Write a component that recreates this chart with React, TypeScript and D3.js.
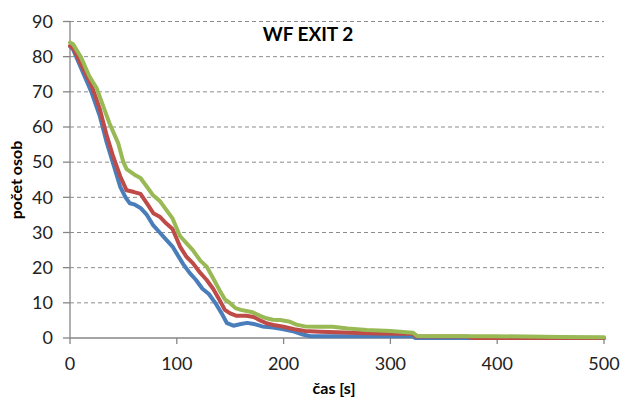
import React from "react";
import * as d3 from "d3";

const blueT = [0,3,10,20,28,34,40,47,52,56,60,66,72,78,84,90,96,100,106,112,118,124,130,136,142,147,153,160,166,172,180,190,200,210,218,225,240,260,280,300,321,323,500];
const blueV = [83,82,77,70,63,56,50,43,40,38.3,38,37,35,32,30,28,26,24,21,18.5,16.5,14,12.5,10,7,4.2,3.5,4,4.3,4,3.3,3,2.5,1.8,1,0.5,0.5,0.5,0.5,0.5,0.5,0,0];

const redT = [0,3,10,20,28,34,40,47,53,60,66,72,78,84,90,96,103,109,115,122,128,134,140,145,150,156,165,172,178,184,192,200,210,220,234,250,270,290,310,321,324,373,376,500];
const redV = [83,82.5,78,72,65,58,52,46,42,41.5,41,38.3,35.5,34.5,32.6,31,26,23.1,21.3,18.5,16.5,14,10.8,8,7,6.3,6.3,6,5,4.2,3.6,3.2,2.5,2,1.8,1.6,1.4,1.3,1.2,1.2,0.4,0.4,0,0];

const greenT = [0,3,10,18,25,31,37,45,50,53,60,66,72,78,84,90,96,103,109,115,122,128,134,140,145,150,155,160,171,178,184,190,197,206,212,220,234,246,260,278,300,321,325,400,460,500];
const greenV = [84,83.5,80,74.5,71,66,61,55.5,50,48,46.5,45.5,43,40.5,39,36.5,34,29,27,25,22,20.3,17,13.6,11,9.9,8.5,8,7.3,6.3,5.6,5.2,5.1,4.6,3.8,3.3,3.2,3.2,2.7,2.3,2,1.5,0.6,0.5,0.3,0.2];

const xTicks = [0,100,200,300,400,500];
const yTicks = [0,10,20,30,40,50,60,70,80,90];

const seriesList = [
  { t: blueT, v: blueV, color: "#4A7EBB" },
  { t: redT, v: redV, color: "#BE4B48" },
  { t: greenT, v: greenV, color: "#98B954" },
];

const title = "WF EXIT 2";
const xLabel = "čas [s]";
const yLabel = "počet osob";

export default function App() {
  const W = 622, H = 403;
  const x = d3.scaleLinear().domain([0, 500]).range([70, 604]);
  const y = d3.scaleLinear().domain([0, 90]).range([338, 21.5]);
  const line = d3.line<[number, number]>().x(d => x(d[0])).y(d => y(d[1]));
  const font = "Lato, 'Open Sans', sans-serif";
  return (
    <svg width={W} height={H} style={{ position: "absolute", left: 0, top: 0, background: "#fff" }}>
      {yTicks.filter(t => t > 0).map(t => (
        <line key={"g" + t} x1={70} x2={604} y1={y(t)} y2={y(t)} stroke="#8c8c8c" strokeWidth={1} strokeDasharray="4,3" />
      ))}
      <line x1={70} x2={70} y1={y(90)} y2={y(0)} stroke="#868686" strokeWidth={1.3} />
      <line x1={70} x2={604} y1={y(0)} y2={y(0)} stroke="#868686" strokeWidth={1.3} />
      {yTicks.map(t => (
        <g key={"y" + t}>
          <line x1={63} x2={70} y1={y(t)} y2={y(t)} stroke="#868686" strokeWidth={1.3} />
          <text x={53} y={y(t)} dy="0.35em" textAnchor="end" fontFamily={font} fontSize={18} fill="#222">{t}</text>
        </g>
      ))}
      {xTicks.map(t => (
        <g key={"x" + t}>
          <line x1={x(t)} x2={x(t)} y1={338} y2={344} stroke="#868686" strokeWidth={1.3} />
          <text x={x(t)} y={364} dy="0.35em" textAnchor="middle" fontFamily={font} fontSize={18} fill="#222">{t}</text>
        </g>
      ))}
      {seriesList.map((s, i) => (
        <path key={i} d={line(s.t.map((t, j) => [t, s.v[j]]) as [number, number][]) || ""} fill="none" stroke={s.color} strokeWidth={4} strokeLinejoin="round" strokeLinecap="round" />
      ))}
      <text x={308} y={41} textAnchor="middle" fontFamily={font} fontWeight="bold" fontSize={19} fill="#000">{title}</text>
      <text x={334} y={394} textAnchor="middle" fontFamily={font} fontWeight="bold" fontSize={16} fill="#000">{xLabel}</text>
      <text transform={`translate(22,180) rotate(-90)`} textAnchor="middle" fontFamily={font} fontWeight="bold" fontSize={16} fill="#000">{yLabel}</text>
    </svg>
  );
}
